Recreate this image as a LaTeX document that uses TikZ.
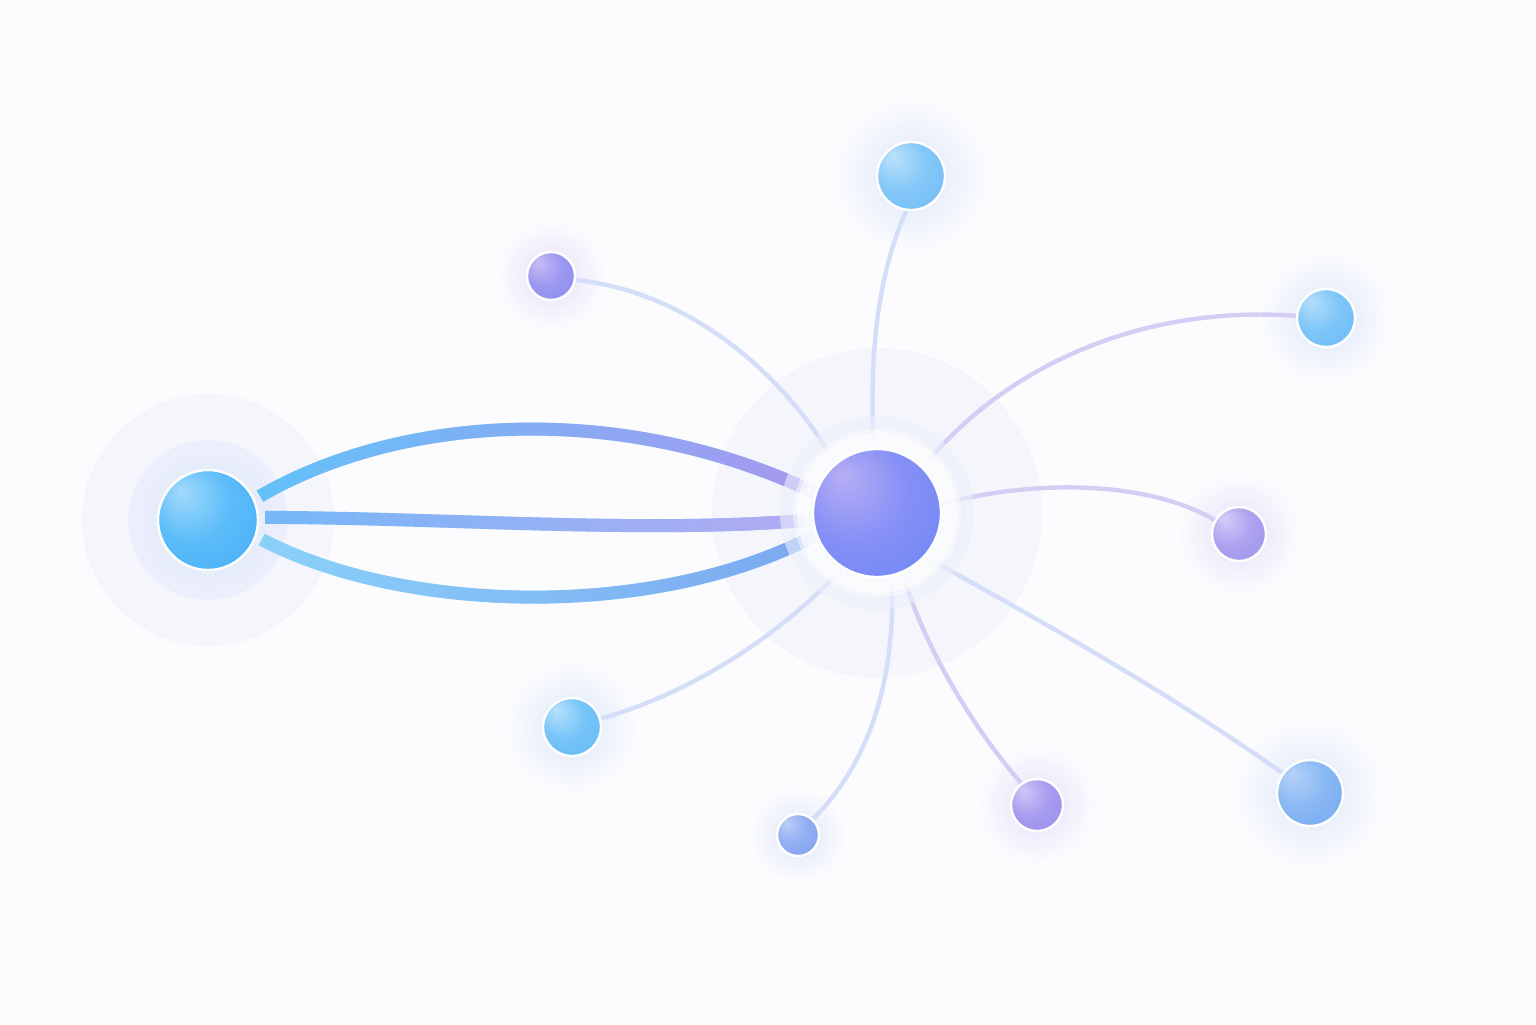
\documentclass[tikz,border=0pt]{standalone}
\usepackage{tikz}
\usetikzlibrary{fadings}

\definecolor{bgcol}{HTML}{FCFCFE}
\definecolor{haloouter}{HTML}{F5F6FC}
\definecolor{haloinner}{HTML}{ECEFFB}
\definecolor{glowblue}{HTML}{DCE6FA}
\definecolor{glowlav}{HTML}{E4E0FA}
\definecolor{spokeblue}{HTML}{D4DEF8}
\definecolor{spokelav}{HTML}{D5CDF4}
\definecolor{strandblue}{HTML}{62C2F9}
\definecolor{strandlav}{HTML}{A898F0}
\definecolor{midblue}{HTML}{74B8F8}
\definecolor{midlav}{HTML}{B4AAF2}
\definecolor{lowblue}{HTML}{8AD2FA}
\definecolor{lowend}{HTML}{7CA8F0}

\newcommand{\defball}[4]{%
    \definecolor{#1hi}{HTML}{#2}%
    \definecolor{#1mid}{HTML}{#3}%
    \definecolor{#1base}{HTML}{#4}%
    \pgfdeclareradialshading{#1ball}{\pgfpoint{-14bp}{15bp}}{%
        color(0bp)=(#1hi); color(20bp)=(#1mid); color(52bp)=(#1base)}}

\defball{src}{A2DAFC}{5CBCF9}{3CA6F6}
\defball{hub}{B8AEF4}{8690F6}{6282F8}
\defball{top}{BCE2FC}{84C8F8}{62B2F6}
\defball{rtop}{B6DEFA}{7EC6F8}{5EB4F6}
\defball{lowl}{B8E0FC}{76C4F8}{58B4F6}
\defball{lowr}{B6D2F8}{8AB8F4}{6A9EF0}
\defball{btm}{BACEF8}{92AEF2}{7896F0}
\defball{upl}{C8BCF4}{9C98F0}{7E86F0}
\defball{rmid}{D6CCF6}{AEA2F0}{8E8AEE}
\defball{bmid}{D2C6F6}{A89CF0}{8C86EE}

\tikzfading[name=tohub, left color=transparent!100, right color=transparent!0]

\pgfdeclarelayer{halo}
\pgfdeclarelayer{links}
\pgfdeclarelayer{cover}
\pgfsetlayers{halo,links,cover,main}

\tikzset{
    sphere/.style = {
        draw=white,
        shape=circle,
        shade,
        inner sep=0pt,
        line width=1.2pt
    },
    spoke/.style = {
        line width=2.2pt,
        line cap=round
    },
    strand/.style = {
        line width=6.5pt,
        line cap=butt
    },
}

\begin{document}
\begin{tikzpicture}[x=0.5pt, y=-0.5pt]
    \node[sphere, minimum size=50pt, shading=srcball] (src) at (208,520) {};
    \node[sphere, minimum size=64pt, shading=hubball] (hub) at (877,513) {};
    \node[sphere, minimum size=34pt, shading=topball] (top) at (911,176) {};
    \node[sphere, minimum size=24pt, shading=uplball] (upl) at (551,276) {};
    \node[sphere, minimum size=29pt, shading=rtopball] (rtop) at (1326,318) {};
    \node[sphere, minimum size=27pt, shading=rmidball] (rmid) at (1239,534) {};
    \node[sphere, minimum size=33pt, shading=lowrball] (lowr) at (1310,793) {};
    \node[sphere, minimum size=26pt, shading=bmidball] (bmid) at (1037,805) {};
    \node[sphere, minimum size=21pt, shading=btmball] (btm) at (798,835) {};
    \node[sphere, minimum size=29pt, shading=lowlball] (lowl) at (572,727) {};

    \begin{pgfonlayer}{halo}
        \fill[bgcol] (0,0) rectangle (1536,1024);
        \fill[haloouter] (src) circle (126);
        \fill[haloinner] (src) circle (80);
        \fill[haloouter] (hub) circle (165);
        % soft glow under the small spheres
        \foreach \n/\r/\c in {top/34/glowblue, upl/24/glowlav, rtop/29/glowblue,
                rmid/27/glowlav, lowr/33/glowblue, bmid/26/glowlav,
                btm/21/glowblue, lowl/29/glowblue} {
            \shade[inner color=\c, outer color=bgcol, yshift=-3pt] (\n) circle[radius=2.3*\r];
        }
        \shade[inner color=glowblue, outer color=haloinner, yshift=-3pt] (src) circle (78);
    \end{pgfonlayer}

    \begin{pgfonlayer}{links}
        \path[draw, spoke, spokeblue] (upl.351) .. controls (690,292) and (785,375) .. (hub.130);
        \path[draw, spoke, spokeblue] (top.262) .. controls (884,262) and (868,330) .. (hub.93);
        \path[draw, spoke, spokelav] (rtop.176) .. controls (1150,305) and (1010,360) .. (hub.45);
        \path[draw, spoke, spokelav] (rmid.150) .. controls (1150,482) and (1040,478) .. (hub.8);
        \path[draw, spoke, spokeblue] (lowr.144) .. controls (1150,680) and (1020,610) .. (hub.318);
        \path[draw, spoke, spokelav] (bmid.126) .. controls (975,730) and (925,650) .. (hub.293);
        \path[draw, spoke, spokeblue] (btm.47) .. controls (872,760) and (896,675) .. (hub.283);
        \path[draw, spoke, spokeblue] (lowl.16) .. controls (700,690) and (785,630) .. (hub.238);

        \path[draw, strand, strandblue, shorten <=3pt] (src.24) .. controls (400,415) and (620,400) .. (hub.162);
        \path[draw, strand, strandlav, shorten <=3pt, path fading=tohub] (src.24) .. controls (400,415) and (620,400) .. (hub.162);
        \path[draw, strand, midblue, shorten <=3pt] (src.3) .. controls (450,518) and (650,534) .. (hub.186);
        \path[draw, strand, midlav, shorten <=3pt, path fading=tohub] (src.3) .. controls (450,518) and (650,534) .. (hub.186);
        \path[draw, strand, lowblue, shorten <=3pt] (src.341) .. controls (400,612) and (650,622) .. (hub.200);
        \path[draw, strand, lowend, shorten <=3pt, path fading=tohub] (src.341) .. controls (400,612) and (650,622) .. (hub.200);
    \end{pgfonlayer}

    \begin{pgfonlayer}{cover}
        \fill[haloinner, opacity=0.6] (hub) circle (97);
        \fill[white, opacity=0.45] (hub) circle (84);
        \fill[white, opacity=0.45] (hub) circle (74);
        \shade[inner color=glowblue, outer color=white, opacity=0.6, yshift=-4pt] (hub) circle (80);
    \end{pgfonlayer}
\end{tikzpicture}
\end{document}
